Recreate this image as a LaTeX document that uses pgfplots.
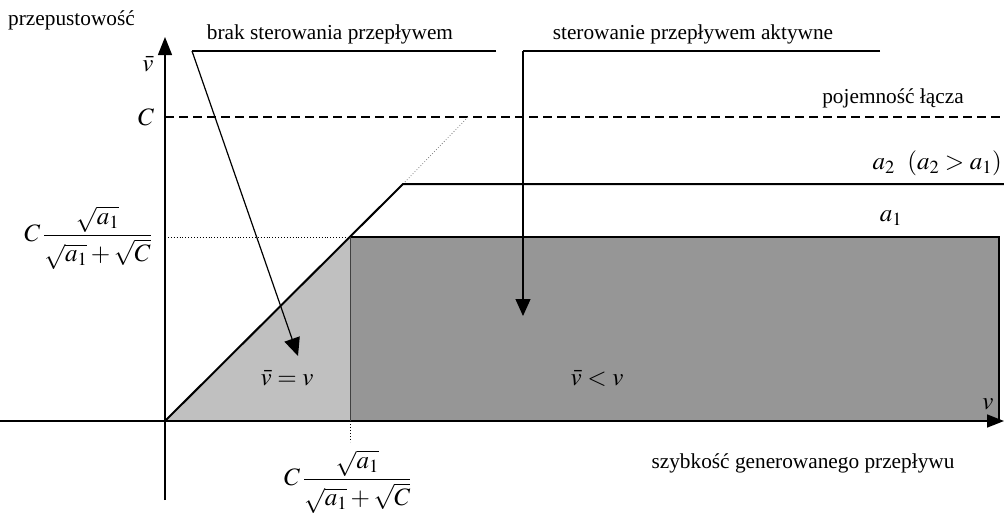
\documentclass[border=0pt]{standalone}
\usepackage{mathptmx}
\usepackage{fontspec}
\setmainfont{Liberation Serif}
\usepackage{pgfplots}
\pgfplotsset{compat=1.18}
\usetikzlibrary{arrows.meta}
\definecolor{lightfill}{HTML}{C0C0C0}
\definecolor{darkfill}{HTML}{969696}
\newcommand{\capfrac}{$\displaystyle C\,\frac{\sqrt{a_1}}{\sqrt{a_1}+\sqrt{C}}$}
\begin{document}
\begin{tikzpicture}[every node/.style={font=\fontsize{21.3}{25}\selectfont, inner sep=0pt},
  mathlbl/.style={font=\fontsize{25}{29}\selectfont}]
\begin{axis}[scale only axis, width=1004pt, height=515pt,
  xmin=0, xmax=1004, ymin=0, ymax=515, y dir=reverse,
  hide axis, clip=false]
% regions
\addplot[fill=lightfill, draw=none] coordinates {(165,421) (350,237) (350,421)} -- cycle;
\addplot[fill=darkfill, draw=none] coordinates {(350,237) (999,237) (999,421) (350,421)} -- cycle;
% axes
\addplot[line width=1.6pt, -{Triangle[length=17pt,width=13pt]}] coordinates {(0,421) (1004,421)};
\addplot[line width=1.4pt, -{Triangle[length=18pt,width=14pt]}] coordinates {(165,500) (165,37)};
% capacity
\addplot[line width=1.8pt, dash pattern=on 9pt off 5pt] coordinates {(165,117) (1004,117)};
\addplot[line width=0.8pt, dotted, gray] coordinates {(403,184) (468,117)};
% throughput curves
\addplot[line width=2pt] coordinates {(165,421) (403,184) (1004,184)};
\addplot[line width=2.2pt] coordinates {(350,237) (999,237) (999,421)};
\addplot[line width=0.9pt, dotted] coordinates {(165,237) (350,237)};
\addplot[line width=1pt, black!75] coordinates {(350,237) (350,421)};
\addplot[line width=1pt, dotted] coordinates {(350,421) (350,442)};
% annotations
\addplot[line width=1.2pt] coordinates {(496,51) (192,51)};
\addplot[line width=1.2pt, -{Triangle[length=18pt,width=16pt]}] coordinates {(192,51) (298,356)};
\addplot[line width=1.2pt] coordinates {(880,51) (523,51)};
\addplot[line width=1.2pt, -{Triangle[length=17pt,width=15pt]}] coordinates {(523,51) (523,316)};
% labels
\node[anchor=west] at (axis cs:8,20) {przepustowość};
\node[mathlbl] at (axis cs:148,64) {$\bar{v}$};
\node at (axis cs:330,34) {brak sterowania przepływem};
\node at (axis cs:693,34) {sterowanie przepływem aktywne};
\node at (axis cs:893,98) {pojemność łącza};
\node[mathlbl] at (axis cs:146,117) {$C$};
\node[mathlbl, anchor=east] at (axis cs:152,238) {\capfrac};
\node[mathlbl, anchor=east] at (axis cs:1002,163) {$a_2\ \ (a_2 > a_1)$};
\node[mathlbl] at (axis cs:891,218) {$a_1$};
\node[mathlbl] at (axis cs:287,378) {$\bar{v} = v$};
\node[mathlbl] at (axis cs:597,378) {$\bar{v} < v$};
\node[mathlbl] at (axis cs:988,404) {$v$};
\node at (axis cs:803,463) {szybkość generowanego przepływu};
\node[mathlbl, anchor=west] at (axis cs:284,482) {\capfrac};
\end{axis}
\pgfresetboundingbox
\path[use as bounding box] (0,0) rectangle (1004pt,515pt);
\end{tikzpicture}
\end{document}
